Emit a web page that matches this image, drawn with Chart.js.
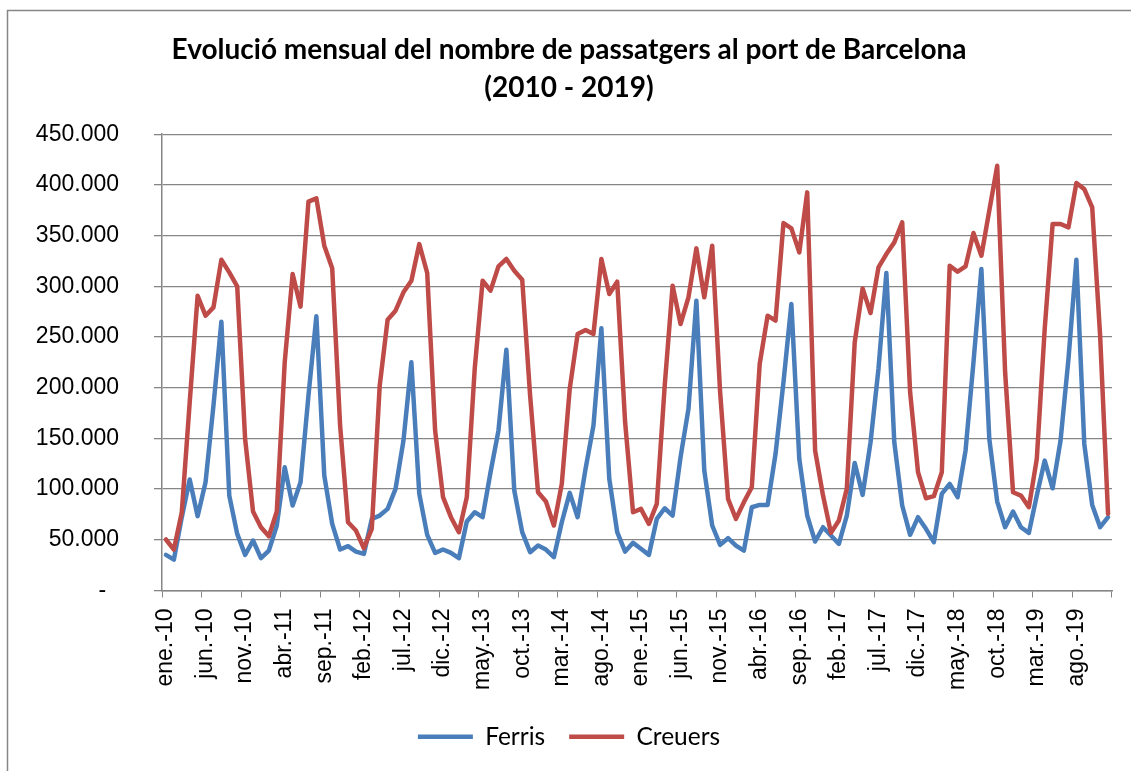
<!DOCTYPE html>
<html>
<head>
<meta charset="utf-8">
<script src="https://cdn.jsdelivr.net/npm/chart.js@4.4.0/dist/chart.umd.min.js"></script>
<style>
  html, body { margin: 0; background: #fff; overflow: hidden; }
  #wrap { width: 1131px; height: 771px; position: relative; }
</style>
</head>
<body>
<div id="wrap"><canvas id="myChart"></canvas></div>
<script>
// mesos i anys de l'eix X (gen. 2010 - des. 2019)
const mesos = ['ene.', 'feb.', 'mar.', 'abr.', 'may.', 'jun.', 'jul.', 'ago.', 'sep.', 'oct.', 'nov.', 'dic.'];
const anys = ['10', '11', '12', '13', '14', '15', '16', '17', '18', '19'];

// passatgers mensuals, llegits del grafic
const ferris = [
  35100, 30500, 72300, 109400, 73300, 106800, 182300, 265100, 93600, 55800, 35100, 49300,
  31900, 39400, 64100, 121500, 83800, 106800, 192200, 270400, 113300, 65700, 40400, 43700,
  38400, 36100, 70600, 73900, 80500, 100200, 147800, 225000, 95300, 54900, 37100, 40400,
  37100, 31900, 68000, 77200, 72300, 116600, 157700, 237500, 98600, 57500, 37800, 44300,
  40400, 32900, 67300, 96300, 72300, 119900, 162600, 258500, 110000, 57500, 38400, 47000,
  41100, 35100, 70600, 81100, 73900, 131400, 179000, 285800, 118300, 64100, 45000, 51600,
  44300, 39400, 82100, 84400, 84400, 134700, 205300, 282500, 129800, 73900, 48300, 62400,
  54200, 46000, 73900, 125800, 94300, 146200, 218500, 313100, 146200, 83800, 54900, 72300,
  60800, 47600, 95300, 105100, 92000, 138000, 225000, 317000, 149500, 87700, 62400, 77900,
  62400, 56800, 93600, 128100, 100800, 147800, 228300, 326200, 144500, 84400, 62400, 72300
];
const creuers = [
  50300, 40400, 77200, 185600, 290700, 271000, 279200, 326200, 313700, 299900, 149500, 77900,
  62400, 53500, 77900, 225000, 312100, 279900, 383400, 386600, 340000, 317700, 162600, 67300,
  59100, 41700, 60800, 202000, 267100, 275900, 294000, 305500, 341600, 313100, 157700, 92000,
  72300, 57500, 92000, 218500, 305500, 295700, 319600, 326900, 315400, 306500, 192200, 96900,
  87700, 64100, 105100, 198700, 252900, 256900, 252900, 326900, 292400, 304500, 165900, 77200,
  80500, 65700, 85400, 202000, 300600, 262800, 289100, 337400, 289100, 340000, 195500, 90300,
  70600, 87100, 101800, 223400, 271000, 266100, 362300, 357100, 333400, 392600, 138000, 93600,
  56800, 69000, 100200, 244700, 297900, 273600, 318600, 331800, 343300, 363000, 195500, 116600,
  91000, 93000, 116600, 320300, 314400, 319600, 352500, 330100, 374500, 418800, 215200, 96900,
  93600, 82100, 129800, 257900, 361400, 361400, 358100, 401800, 395800, 377800, 251300, 75600
];

var labels = [];
anys.forEach(function (a) {
  mesos.forEach(function (m) { labels.push(m + '-' + a); });
});

const gris = '#868686';

// marc del grafic (vora esquerra i superior)
const marc = {
  id: 'marc',
  beforeDraw: function (chart) {
    const c = chart.ctx;
    c.save();
    c.fillStyle = '#ffffff';
    c.fillRect(0, 0, chart.width, chart.height);
    c.strokeStyle = gris;
    c.lineWidth = 1.5;
    c.beginPath();
    c.moveTo(7.5, chart.height);
    c.lineTo(7.5, 10.5);
    c.lineTo(chart.width, 10.5);
    c.stroke();
    c.restore();
  }
};

function cadaCinc(ctx) {
  return (ctx.index === undefined || ctx.index % 5 === 0) ? gris : 'rgba(0,0,0,0)';
}

const ctx = document.getElementById('myChart').getContext('2d');

var graphData = {
  type: 'line',
  data: {
    labels: labels,
    datasets: [{
      label: 'Ferris',
      data: ferris,
      borderColor: '#4A7EBB',
      backgroundColor: '#4A7EBB',
      borderWidth: 4.5,
      pointRadius: 0,
      tension: 0,
      borderJoinStyle: 'round',
      borderCapStyle: 'round',
      order: 1
    }, {
      label: 'Creuers',
      data: creuers,
      borderColor: '#BE4B48',
      backgroundColor: '#BE4B48',
      borderWidth: 4.5,
      pointRadius: 0,
      tension: 0,
      borderJoinStyle: 'round',
      borderCapStyle: 'round',
      order: 0
    }]
  },
  options: {
    responsive: true,
    maintainAspectRatio: false,
    animation: false,
    layout: { padding: { left: 26, right: 19, top: 0, bottom: 12 } },
    plugins: {
      title: {
        display: true,
        text: ['Evolució mensual del nombre de passatgers al port de Barcelona', '(2010 - 2019)'],
        color: '#000',
        font: { family: 'Lato', size: 28, weight: 'bold', lineHeight: 1.36 },
        padding: { top: 31, bottom: 27 }
      },
      legend: {
        position: 'bottom',
        labels: {
          usePointStyle: true,
          pointStyle: 'line',
          pointStyleWidth: 55,
          color: '#000',
          font: { family: 'Lato', size: 24.5 },
          padding: 24,
          sort: function (a, b) { return a.datasetIndex - b.datasetIndex; }
        }
      },
      tooltip: { enabled: false }
    },
    scales: {
      x: {
        offset: true,
        grid: {
          offset: true,
          drawOnChartArea: false,
          tickLength: 7,
          color: cadaCinc,
          tickColor: cadaCinc
        },
        border: { color: gris, width: 1.5 },
        ticks: {
          autoSkip: false,
          minRotation: 90,
          maxRotation: 90,
          padding: 11,
          color: '#000',
          font: { family: 'Liberation Sans', size: 23 },
          callback: function (v, i) { return i % 5 === 0 ? this.getLabelForValue(v) : ''; }
        },
        afterFit: function (s) {
          s.height = 110;
          s.paddingLeft = 0;
          s.paddingRight = 0;
        }
      },
      y: {
        min: 0,
        max: 450000,
        grid: { color: gris, lineWidth: 1.3, tickLength: 8 },
        border: { color: gris, width: 1.5 },
        ticks: {
          stepSize: 50000,
          padding: 35,
          color: '#000',
          font: { family: 'Liberation Sans', size: 23 },
          callback: function (v) { return v === 0 ? '-  ' : (v / 1000) + '.000'; }
        },
        afterFit: function (s) { s.width = 136; }
      }
    }
  },
  plugins: [marc]
};

var myChart = new Chart(ctx, graphData);
</script>
</body>
</html>
